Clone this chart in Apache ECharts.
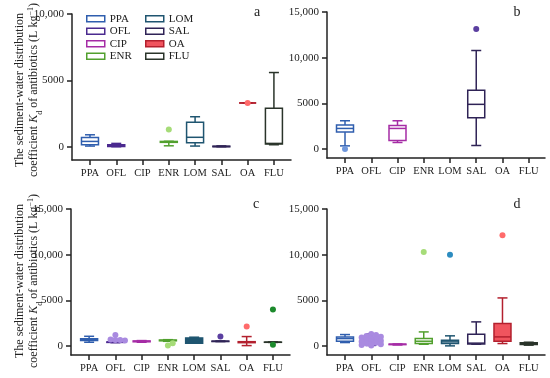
<!DOCTYPE html>
<html><head><meta charset="utf-8">
<script src="https://cdn.jsdelivr.net/npm/echarts@6/dist/echarts.min.js"></script>
<style>html,body{margin:0;padding:0;background:#fff}#c{width:550px;height:378px}</style>
</head><body><div id="c"></div>
<script>
const categories = ['PPA','OFL','CIP','ENR','LOM','SAL','OA','FLU'];
// box values: [min, Q1, median, Q3, max]; null = no data
const boxesA = [
  [50,150,400,700,900],
  [0,20,80,150,250],
  null,
  [70,330,370,400,410],
  [50,300,710,1840,2260],
  [0,0,20,40,60],
  [3300,3300,3300,3300,3300],
  [150,200,250,2900,5590]
];
const pointsA = [[],[],[],[1300],[],[],[3300],[]];
const boxesB = [
  [330,1840,2240,2620,3080],
  null,
  [700,920,2240,2570,3080],
  null,
  null,
  [370,3410,4880,6420,10780],
  null,
  null
];
const pointsB = [[0],[],[],[],[],[13130],[],[]];
const boxesC = [
  [400,600,690,780,1050],
  [350,380,400,430,460],
  [400,450,500,540,580],
  [500,560,600,640,680],
  [300,290,580,875,950],
  [470,480,500,520,530],
  [30,350,400,460,1020],
  [380,390,400,410,420]
];
const pointsC = [[],[1200,650,650,700,600],[],[30,285],[],[1020],[2120],[3975,110]];
const boxesD = [
  [365,510,800,985,1240],
  [50,250,450,750,1300],
  [100,140,170,190,210],
  [180,255,510,800,1530],
  [0,255,440,620,1100],
  [180,200,300,1280,2630],
  [255,510,985,2445,5255],
  [80,150,220,330,400]
];
const pointsD = [[],[1300,1180,1080,1000,920,860,800,750,700,650,610,570,530,490,450,410,370,330,290,250,210,170,130,90,50],[],[10290],[10000],[],[12120],[]];
const yTicksA = [0,5000,10000];
const yTicksB = [0,5000,10000,15000];
const panelLetters = ['a','b','c','d'];

const lineColors = ['#2f5eae','#4b2a8f','#a52ca5','#52a02e','#1f5570','#2f2356','#b3202e','#2a342a'];
const pointColors = ['#6f97dc','#a98ae0','#c25ac2','#a6dc78','#2c8cc0','#5b3fa0','#ff6b6b','#1c8a2c'];
const fills = [{}, {}, {4:'#1f5570', 1:'#4b2a8f'}, {6:'#f0545e', 7:'#2a342a'}];
const FONT = "'Liberation Serif','Times New Roman',serif";
const INK = '#222';

const panels = [
  {boxes: boxesA, points: pointsA, ticks: yTicksA, ymax: 10000, grid:{left:72, top:14, width:219, height:146}, xmin:-0.684, xmax:7.65},
  {boxes: boxesB, points: pointsB, ticks: yTicksB, ymax: 15000, grid:{left:327, top:12, width:218, height:146}, xmin:-0.686, xmax:7.62},
  {boxes: boxesC, points: pointsC, ticks: yTicksB, ymax: 15000, grid:{left:71, top:209, width:219, height:146}, xmin:-0.69, xmax:7.65},
  {boxes: boxesD, points: pointsD, ticks: yTicksB, ymax: 15000, grid:{left:327, top:209, width:218, height:146}, xmin:-0.686, xmax:7.62}
];

const fmt = v => v >= 10000 ? String(v).replace(/\B(?=(\d{3})+(?!\d))/g, ',') : String(v);
const axisLineStyle = {color: INK, width: 1.5};
const catIdx = categories.map((_, i) => i);

const grid = [], xAxis = [], yAxis = [], series = [];
panels.forEach((p, pi) => {
  grid.push(p.grid);
  xAxis.push({
    type: 'value', gridIndex: pi, min: p.xmin, max: p.xmax,
    axisLine: {show: true, onZero: false, lineStyle: axisLineStyle},
    splitLine: {show: false},
    axisTick: {show: true, customValues: catIdx, length: 5, lineStyle: axisLineStyle},
    axisLabel: {customValues: catIdx, formatter: v => categories[Math.round(v)], fontFamily: FONT, fontSize: 10.5, color: INK, margin: 8}
  });
  yAxis.push({
    type: 'value', gridIndex: pi, min: -1000, max: p.ymax,
    axisLine: {show: true, onZero: false, lineStyle: axisLineStyle},
    splitLine: {show: false},
    axisTick: {show: true, customValues: p.ticks, length: 5, lineStyle: axisLineStyle},
    axisLabel: {customValues: p.ticks, formatter: fmt, fontFamily: FONT, fontSize: 11, color: INK, margin: 8}
  });
  p.boxes.forEach((b, ci) => {
    if (!b) return;
    series.push({
      type: 'custom', name: categories[ci], xAxisIndex: pi, yAxisIndex: pi, clip: false,
      encode: {x: 0, y: [1,2,3,4,5]},
      data: [[ci].concat(b)],
      renderItem: function (params, api) {
        const x = api.value(0);
        const pt = k => api.coord([x, api.value(k)]);
        const pMin = pt(1), pQ1 = pt(2), pMed = pt(3), pQ3 = pt(4), pMax = pt(5);
        const cx = pMin[0], bw = 17, cw = 10;
        const col = lineColors[ci];
        const fill = fills[pi][ci] || '#fff';
        const ls = {stroke: col, lineWidth: 1.5, fill: null};
        return {type: 'group', children: [
          {type: 'line', shape: {x1: cx, y1: pMax[1], x2: cx, y2: pQ3[1]}, style: ls},
          {type: 'line', shape: {x1: cx, y1: pQ1[1], x2: cx, y2: pMin[1]}, style: ls},
          {type: 'line', shape: {x1: cx - cw/2, y1: pMax[1], x2: cx + cw/2, y2: pMax[1]}, style: ls},
          {type: 'line', shape: {x1: cx - cw/2, y1: pMin[1], x2: cx + cw/2, y2: pMin[1]}, style: ls},
          {type: 'rect', shape: {x: cx - bw/2, y: Math.min(pQ3[1], pQ1[1]), width: bw, height: Math.abs(pQ1[1] - pQ3[1])}, style: {stroke: col, lineWidth: 1.5, fill: fill}},
          {type: 'line', shape: {x1: cx - bw/2, y1: pMed[1], x2: cx + bw/2, y2: pMed[1]}, style: ls}
        ]};
      }
    });
  });
  // individual points (outliers / raw values), spread as a compact beeswarm
  const flat = [];
  p.points.forEach((vals, ci) => vals.forEach(v => flat.push([ci, v])));
  if (flat.length) {
    series.push({
      type: 'custom', name: 'points', xAxisIndex: pi, yAxisIndex: pi, clip: false,
      encode: {x: 0, y: 1}, z: 3,
      data: flat,
      renderItem: function (params, api) {
        const k = params.dataIndex;
        const ci = flat[k][0];
        const r = 3, step = 2.4, minD = 3.6, maxS = 8;
        const placed = [];
        let pos = null;
        for (let j = 0; j <= k; j++) {
          if (flat[j][0] !== ci) continue;
          const c = api.coord([ci, flat[j][1]]);
          let off = 0;
          for (let s = 0; s <= maxS; s++) {
            const cand = s === 0 ? 0 : (s % 2 ? 1 : -1) * Math.ceil(s / 2) * step;
            const ok = placed.every(q => Math.hypot(q[0] - (c[0] + cand), q[1] - c[1]) >= minD);
            if (ok) { off = cand; break; }
          }
          const pp = [c[0] + off, c[1]];
          placed.push(pp);
          if (j === k) pos = pp;
        }
        return {type: 'circle', shape: {cx: pos[0], cy: pos[1], r: r}, style: {fill: pointColors[ci], stroke: null}};
      }
    });
  }
});

const legendItem = (name) => {
  const i = categories.indexOf(name);
  return {name: name, icon: 'rect', itemStyle: {color: name === 'OA' ? '#f0545e' : '#fff', borderColor: lineColors[i], borderWidth: 1.5}};
};
const legendBase = {
  orient: 'vertical', itemWidth: 18, itemHeight: 6, itemGap: 1, selectedMode: false,
  textStyle: {fontFamily: FONT, fontSize: 11, color: INK, lineHeight: 11.5, padding: [0,0,0,0]}
};

const letterPos = [[257,12],[517,12],[256,204],[517,204]];
const graphic = [];
panelLetters.forEach((L, i) => graphic.push({
  type: 'text', x: letterPos[i][0], y: letterPos[i][1],
  style: {text: L, fontFamily: FONT, fontSize: 14, fill: INK, align: 'center', verticalAlign: 'middle'}
}));
[90, 281].forEach(cy => {
  graphic.push({
    type: 'text', x: 20, y: cy, rotation: Math.PI / 2,
    style: {text: 'The sediment-water distribution', fontFamily: FONT, fontSize: 12, fill: INK, align: 'center', verticalAlign: 'middle'}
  });
  graphic.push({
    type: 'text', x: 34, y: cy, rotation: Math.PI / 2,
    style: {
      text: 'coefficient {i|K}{sub|d} of antibiotics (L kg{sup|\u22121})',
      fontFamily: FONT, fontSize: 12, fill: INK, align: 'center', verticalAlign: 'middle', lineHeight: 14,
      rich: {
        i: {fontFamily: FONT, fontSize: 12, fontStyle: 'italic', fill: INK, lineHeight: 14},
        sub: {fontFamily: FONT, fontSize: 8, fill: INK, verticalAlign: 'bottom', lineHeight: 14, padding: [0,0,-3,0]},
        sup: {fontFamily: FONT, fontSize: 8, fill: INK, verticalAlign: 'top', lineHeight: 14}
      }
    }
  });
});

const chart = echarts.init(document.getElementById('c'), null, {renderer: 'canvas'});
chart.setOption({
  animation: false,
  backgroundColor: '#fff',
  grid: grid, xAxis: xAxis, yAxis: yAxis, series: series,
  legend: [
    Object.assign({left: 81, top: 8, data: ['PPA','OFL','CIP','ENR'].map(legendItem)}, legendBase),
    Object.assign({left: 140, top: 8, data: ['LOM','SAL','OA','FLU'].map(legendItem)}, legendBase)
  ],
  graphic: graphic
});
</script>
</body></html>
